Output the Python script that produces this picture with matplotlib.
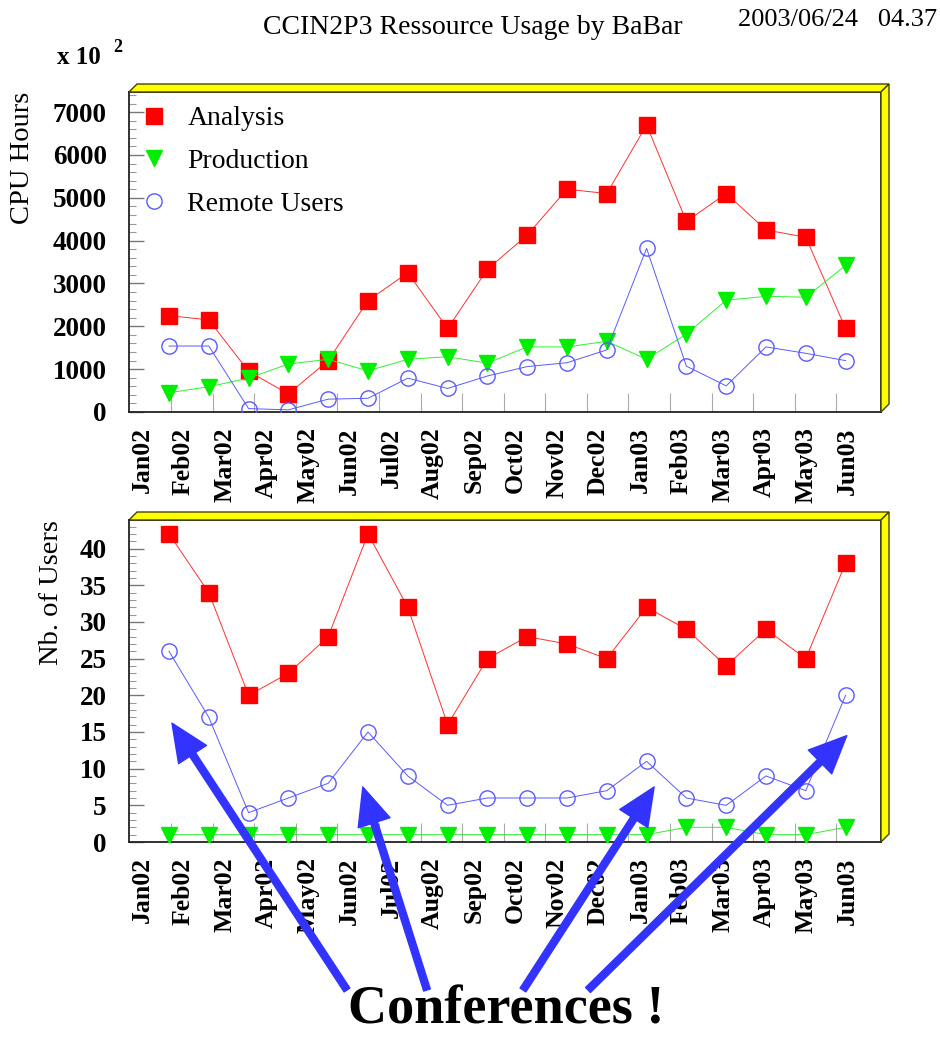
import numpy as np
import matplotlib
matplotlib.use("Agg")
import matplotlib.pyplot as plt
from matplotlib.patches import Polygon
from matplotlib.ticker import MultipleLocator

plt.rcParams['font.family'] = ['Liberation Serif', 'DejaVu Serif']

# Données
mois = ["Jan02", "Feb02", "Mar02", "Apr02", "May02", "Jun02", "Jul02", "Aug02", "Sep02",
        "Oct02", "Nov02", "Dec02", "Jan03", "Feb03", "Mar03", "Apr03", "May03", "Jun03"]

cpu_analysis = [2250, 2150, 950, 420, 1200, 2600, 3250, 1950, 3330, 4130, 5200, 5100,
                6700, 4450, 5100, 4250, 4080, 1950]
cpu_production = [450, 590, 790, 1120, 1230, 960, 1230, 1290, 1140, 1520, 1520, 1650,
                  1230, 1820, 2610, 2700, 2680, 3420]
cpu_remote = [1540, 1540, 80, 50, 300, 320, 790, 550, 840, 1060, 1150, 1450,
              3820, 1070, 610, 1520, 1370, 1200]

users_analysis = [42, 34, 20, 23, 28, 42, 32, 16, 25, 28, 27, 25, 32, 29, 24, 29, 25, 38]
users_production = [1, 1, 1, 1, 1, 1, 1, 1, 1, 1, 1, 1, 1, 2, 2, 1, 1, 2]
users_remote = [26, 17, 4, 6, 8, 15, 9, 5, 6, 6, 6, 7, 11, 6, 5, 9, 7, 20]

x = np.arange(len(mois))

W, H = 940, 1037
fig = plt.figure(figsize=(W / 100, H / 100), dpi=100)

# position des étiquettes et des petites marques (axe temps décalé comme dans ROOT)
pos_labels = -0.678 + 1.0427 * np.arange(len(mois))
pos_marques = 0.05 + 1.045 * np.arange(17)

rouge = '#ff0000'
vert = '#00ee00'
bleu = '#5a5aff'


def cadre(ax):
    # effet 3D jaune (dessus + côté droit)
    bb = ax.get_position()
    dx = 8 / (bb.width * W)
    dy = 8 / (bb.height * H)
    haut = Polygon([(0, 1), (1, 1), (1 + dx, 1 + dy), (dx, 1 + dy)], closed=True,
                   transform=ax.transAxes, facecolor='#ffff00', edgecolor='#444400',
                   lw=1, clip_on=False, zorder=5)
    droite = Polygon([(1, 0), (1, 1), (1 + dx, 1 + dy), (1 + dx, dy)], closed=True,
                     transform=ax.transAxes, facecolor='#ffff00', edgecolor='#444400',
                     lw=1, clip_on=False, zorder=5)
    ax.add_patch(haut)
    ax.add_patch(droite)
    for s in ax.spines.values():
        s.set_linewidth(1.3)
        s.set_color('#222222')


def axe_x(ax):
    ax.set_xlim(-1.005, 17.89)
    ax.set_xticks(pos_labels)
    ax.set_xticklabels(mois, rotation=90, fontsize=18.5, fontweight='bold', va='top')
    ax.set_xticks(pos_marques, minor=True)
    ax.tick_params(axis='x', which='major', length=0, pad=11)
    ax.tick_params(axis='x', which='minor', length=14, direction='in', color='#aaaaaa', width=0.8)
    ax.tick_params(axis='y', which='major', length=11, direction='in', color='#777777',
                   width=1, pad=16, labelsize=19.5)
    ax.tick_params(axis='y', which='minor', length=5, direction='in', color='#999999', width=0.8)
    for lab in ax.get_yticklabels():
        lab.set_fontweight('bold')


def tracer(ax, a, p, r):
    ax.plot(x, a, color='#ff3030', lw=0.7, marker='s', ms=11.5, mec=rouge, mfc=rouge, label='Analysis', zorder=3)
    ax.plot(x, p, color='#30f030', lw=0.7, marker='v', ms=12, mec=vert, mfc=vert, label='Production', zorder=3)
    ax.plot(x, r, color=bleu, lw=0.7, marker='o', ms=11, mec=bleu, mfc='none', mew=1,
            label='Remote Users', zorder=3)


# Panneau du haut : heures CPU
ax1 = fig.add_axes([129 / W, 1 - 412 / H, 752 / W, 320 / H])
tracer(ax1, cpu_analysis, cpu_production, cpu_remote)
ax1.set_ylim(0, 7470)
ax1.yaxis.set_major_locator(MultipleLocator(1000))
ax1.yaxis.set_minor_locator(MultipleLocator(200))
axe_x(ax1)
cadre(ax1)
ax1.set_ylabel('CPU Hours', fontsize=20.5, loc='top')
ax1.yaxis.set_label_coords(-0.125, 1.0)

leg = ax1.legend(loc='upper left', bbox_to_anchor=((143 - 129) / 752, (412 - 106) / 320),
                 frameon=False, fontsize=20, handlelength=0.8, handletextpad=0.8,
                 labelspacing=0.62, borderpad=0, borderaxespad=0, numpoints=1)
for ln in leg.get_lines():
    ln.set_linestyle('None')

# Panneau du bas : nombre d'utilisateurs
ax2 = fig.add_axes([129 / W, 1 - 842 / H, 752 / W, 322 / H])
tracer(ax2, users_analysis, users_production, users_remote)
ax2.set_ylim(0, 43.9)
ax2.yaxis.set_major_locator(MultipleLocator(5))
ax2.yaxis.set_minor_locator(MultipleLocator(1))
axe_x(ax2)
cadre(ax2)
ax2.set_ylabel('Nb. of Users', fontsize=20.5, loc='top')
ax2.yaxis.set_label_coords(-0.087, 1.0)

# Textes du haut
fig.text(473 / W, 1 - 27 / H, 'CCIN2P3 Ressource Usage by BaBar', fontsize=20,
         ha='center', va='center')
fig.text(937 / W, 1 - 20 / H, '2003/06/24   04.37', fontsize=19, ha='right', va='center')
fig.text(57 / W, 1 - 58 / H, 'x 10', fontsize=18, fontweight='bold', ha='left', va='center')
fig.text(113 / W, 1 - 47 / H, '2', fontsize=13, fontweight='bold', ha='left', va='center')

# Flèches "Conferences !"
fig.text(506 / W, 1 - 1036 / H, 'Conferences !', fontsize=39, fontweight='bold',
         ha='center', va='bottom')

fleches = [
    ((0.075, 16.2), (347, 990)),
    ((4.87, 7.5), (427, 990)),
    ((12.19, 7.5), (523, 990)),
    ((17.03, 14.5), (588, 990)),
]
for (cible, depart) in fleches:
    ax2.annotate('', xy=cible, xycoords='data',
                 xytext=(depart[0] / W, 1 - depart[1] / H), textcoords='figure fraction',
                 arrowprops=dict(facecolor='#3333ff', edgecolor='#3333ff', width=5,
                                 headwidth=24, headlength=27, shrink=0),
                 annotation_clip=False, zorder=10)

fig.savefig('out.png', dpi=100)
